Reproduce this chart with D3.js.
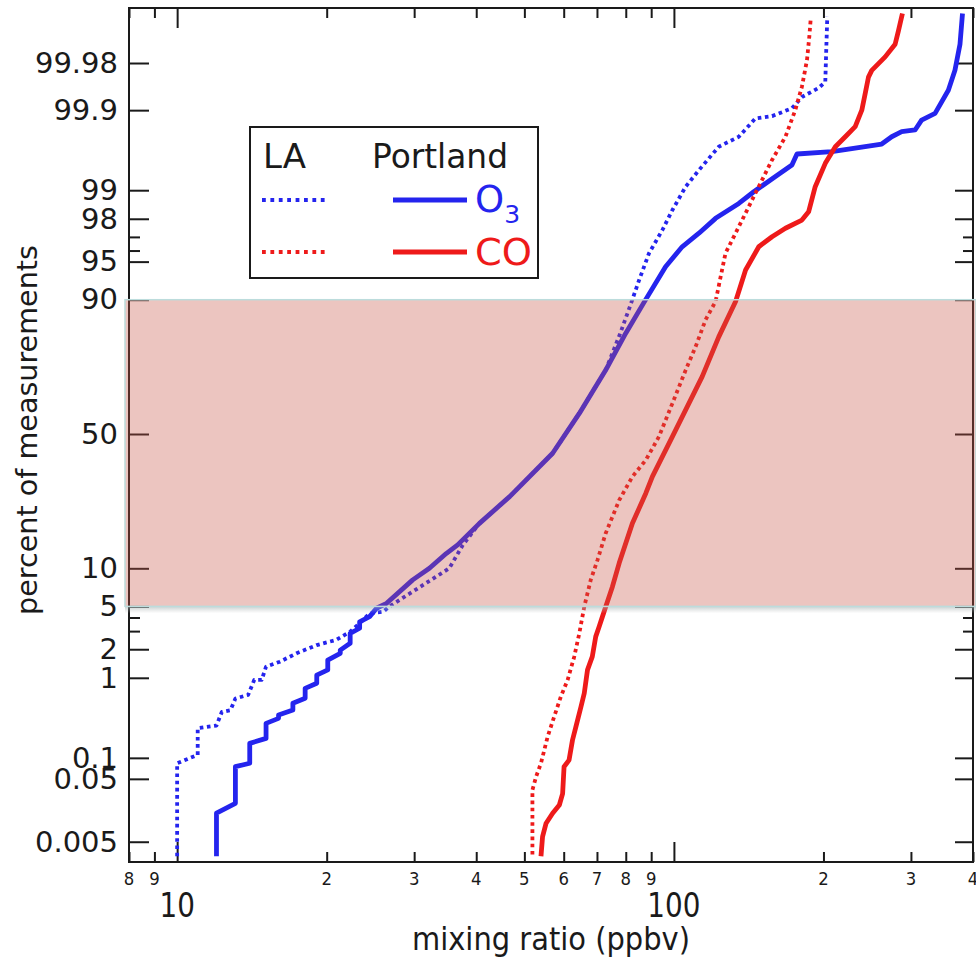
<!DOCTYPE html>
<html><head><meta charset="utf-8">
<script src="https://cdn.jsdelivr.net/npm/d3@7"></script>
<style>body{margin:0;background:#fff}svg{display:block}</style>
</head><body>
<svg id="c" width="976" height="966"></svg>
<script>
// ---------- data ----------
const yTickMajor = [0.005, 0.05, 0.1, 1, 2, 5, 10, 50, 90, 95, 98, 99, 99.9, 99.98];
const yTickMinor = [3, 4, 96, 97];
const xTickMajor = [10, 100];
const xTickMinor = [8, 9, 20, 30, 40, 50, 60, 70, 80, 90, 200, 300, 400];
const xMinorLabels = ["8", "9", "2", "3", "4", "5", "6", "7", "8", "9", "2", "3", "4"];
const bandPercent = [5, 90];

const laO3Value = [10, 10, 11, 11, 12, 12.3, 12.8, 13.1, 13.9, 14.3, 14.8, 15.1, 16.1, 17.4, 19.1, 20.9, 22.3, 23.3, 24.4, 26.0, 26.7, 35.3, 37.6, 40.6, 46.7, 57.0, 64.5, 72.9, 78, 82, 85.1, 89.1, 94.8, 99.3, 105.6, 112.3, 123.1, 135.1, 145.9, 157.6, 172.8, 181, 195.5, 201.7, 202.6, 203.6];
const laO3Percent = [0.0028, 0.084, 0.11, 0.25, 0.27, 0.40, 0.42, 0.58, 0.64, 0.95, 0.95, 1.32, 1.49, 1.82, 2.2, 2.47, 2.96, 3.55, 4.35, 4.5, 4.97, 10.0, 14.5, 19.7, 27.5, 42.7, 57.8, 72.9, 83.2, 89.4, 92.9, 95.77, 97.42, 98.37, 99.086, 99.41, 99.694, 99.772, 99.870, 99.879, 99.906, 99.935, 99.952, 99.961, 99.9876, 99.9966];

const portlandO3Value = [12, 12, 13.1, 13.1, 14, 14, 15.1, 15.1, 16, 16, 17.1, 17.1, 18.1, 18.1, 19.1, 19.1, 20.1, 20.1, 21.3, 21.3, 22.3, 22.3, 23.3, 23.3, 24.4, 25.2, 26.4, 29.8, 32.2, 34.8, 36.7, 40.6, 46.7, 57.0, 64.5, 72.9, 80, 87, 96.2, 103.9, 112.3, 121.3, 135.1, 144.8, 160.1, 172.8, 176.9, 207.9, 262, 274.4, 287.4, 305.8, 315.2, 335.5, 356.8, 367.9, 376.6, 381];
const portlandO3Percent = [0.0028, 0.0148, 0.0213, 0.075, 0.084, 0.158, 0.184, 0.288, 0.333, 0.367, 0.422, 0.509, 0.584, 0.761, 0.868, 1.07, 1.22, 1.55, 1.82, 1.96, 2.29, 2.86, 3.19, 3.66, 4.07, 4.82, 5.31, 8.2, 10.0, 12.7, 14.5, 19.7, 27.5, 42.7, 57.8, 72.9, 83.2, 89.5, 94.48, 96.3, 97.23, 98.02, 98.61, 98.96, 99.30, 99.487, 99.623, 99.648, 99.717, 99.772, 99.804, 99.814, 99.863, 99.889, 99.948, 99.974, 99.990, 99.997];

const laCOValue = [51.9, 51.9, 52.8, 54.0, 55.7, 57.4, 59.2, 61.1, 63.0, 64.5, 66.0, 68.0, 70.2, 72.9, 77.6, 82.5, 87.8, 93.3, 99.3, 105.6, 110.6, 115.8, 121.3, 127.0, 137.2, 145.9, 157.6, 167.7, 175.5, 181.0, 185.3, 187.3, 188.5];
const laCOPercent = [0.003, 0.034, 0.054, 0.084, 0.194, 0.349, 0.609, 0.946, 1.68, 2.86, 4.97, 8.18, 11.5, 17.2, 26.4, 34.2, 40.2, 49.0, 61.5, 72.9, 79.8, 86.2, 89.7, 95.77, 97.94, 98.92, 99.554, 99.772, 99.900, 99.954, 99.982, 99.9925, 99.9962];

const portlandCOValue = [54.0, 54.4, 55.3, 57.0, 58.8, 59.7, 60.1, 61.5, 62.5, 63.5, 65.0, 66.0, 67.0, 68.5, 69.6, 70.7, 71.8, 72.9, 75.2, 77.6, 82.5, 87.8, 90.5, 99.3, 105.6, 114.0, 123.1, 133.1, 139.4, 148.2, 157.6, 167.7, 181.0, 186.7, 192.5, 201.7, 211.3, 221.3, 231.7, 238.9, 242.7, 246.4, 250.2, 266.2, 278.8, 283.1, 288.4];
const portlandCOPercent = [0.0028, 0.0061, 0.0102, 0.0148, 0.020, 0.030, 0.075, 0.093, 0.175, 0.261, 0.463, 0.668, 1.22, 1.68, 2.66, 3.30, 4.07, 4.97, 7.26, 10.9, 19.7, 28.6, 34.2, 49.0, 59.1, 70.8, 82.3, 89.7, 94.12, 96.30, 97.01, 97.52, 97.94, 98.30, 99.086, 99.51, 99.694, 99.772, 99.832, 99.900, 99.942, 99.967, 99.974, 99.984, 99.990, 99.994, 99.997];

const seriesNames = ["LA O3", "Portland O3", "LA CO", "Portland CO"];

// ---------- helpers ----------
function probit(p) { // Acklam inverse normal CDF
  const a=[-3.969683028665376e+01,2.209460984245205e+02,-2.759285104469687e+02,1.383577518672690e+02,-3.066479806614716e+01,2.506628277459239e+00];
  const b=[-5.447609879822406e+01,1.615858368580409e+02,-1.556989798598866e+02,6.680131188771972e+01,-1.328068155288572e+01];
  const c=[-7.784894002430293e-03,-3.223964580411365e-01,-2.400758277161838e+00,-2.549732539343734e+00,4.374664141464968e+00,2.938163982698783e+00];
  const d=[7.784695709041462e-03,3.224671290700398e-01,2.445134137142996e+00,3.754408661907416e+00];
  const pl=0.02425, ph=1-pl; let q, r;
  if (p < pl) { q=Math.sqrt(-2*Math.log(p)); return (((((c[0]*q+c[1])*q+c[2])*q+c[3])*q+c[4])*q+c[5])/((((d[0]*q+d[1])*q+d[2])*q+d[3])*q+1); }
  if (p <= ph) { q=p-0.5; r=q*q; return (((((a[0]*r+a[1])*r+a[2])*r+a[3])*r+a[4])*r+a[5])*q/(((((b[0]*r+b[1])*r+b[2])*r+b[3])*r+b[4])*r+1); }
  q=Math.sqrt(-2*Math.log(1-p)); return -(((((c[0]*q+c[1])*q+c[2])*q+c[3])*q+c[4])*q+c[5])/((((d[0]*q+d[1])*q+d[2])*q+d[3])*q+1);
}
const zOf = pct => probit(pct / 100);

// ---------- layout ----------
const L = 129, R = 973, T = 8, B = 862;
const x = d3.scaleLog().domain([8, 400]).range([L, R]);
const yz = d3.scaleLinear().domain([-4.084, 4.065]).range([B, T]);
const y = pct => yz(zOf(pct));

const svg = d3.select("#c");
const BLUE = "#2424ee", RED = "#ee1a1a", INK = "#1a1a1a";

const defs = svg.append("defs");
const grad = defs.append("linearGradient").attr("id", "sh").attr("x1", 0).attr("y1", 0).attr("x2", 0).attr("y2", 1);
grad.append("stop").attr("offset", 0).attr("stop-color", "#9aa").attr("stop-opacity", 0.55);
grad.append("stop").attr("offset", 1).attr("stop-color", "#bbb").attr("stop-opacity", 0);

// axes (ticks inward)
const styleAxis = g => { g.select(".domain").remove(); g.selectAll(".tick line").attr("stroke", INK).attr("stroke-width", 2); };

svg.append("g").attr("transform", `translate(0,${B})`)
  .call(d3.axisBottom(x).tickValues(xTickMajor).tickSize(-20).tickFormat("")).call(styleAxis);
svg.append("g").attr("transform", `translate(0,${B})`)
  .call(d3.axisBottom(x).tickValues(xTickMinor).tickSize(-10).tickFormat("")).call(styleAxis);
svg.append("g").attr("transform", `translate(0,${T})`)
  .call(d3.axisTop(x).tickValues(xTickMajor).tickSize(-20).tickFormat("")).call(styleAxis);
svg.append("g").attr("transform", `translate(0,${T})`)
  .call(d3.axisTop(x).tickValues(xTickMinor).tickSize(-10).tickFormat("")).call(styleAxis);

const yMajZ = yTickMajor.map(zOf), yMinZ = yTickMinor.map(zOf);
const yLeft = svg.append("g").attr("transform", `translate(${L},0)`)
  .call(d3.axisLeft(yz).tickValues(yMajZ).tickSize(-20).tickPadding(11).tickFormat((d, i) => String(yTickMajor[i])))
  .call(styleAxis);
yLeft.selectAll(".tick text").attr("font-family", "DejaVu Sans, sans-serif").attr("font-size", 29).attr("fill", INK);
svg.append("g").attr("transform", `translate(${L},0)`)
  .call(d3.axisLeft(yz).tickValues(yMinZ).tickSize(-11).tickFormat("")).call(styleAxis);
svg.append("g").attr("transform", `translate(${R},0)`)
  .call(d3.axisRight(yz).tickValues(yMajZ).tickSize(-18).tickFormat("")).call(styleAxis);
svg.append("g").attr("transform", `translate(${R},0)`)
  .call(d3.axisRight(yz).tickValues(yMinZ).tickSize(-10).tickFormat("")).call(styleAxis);

// frame
svg.append("rect").attr("x", L).attr("y", T).attr("width", R - L).attr("height", B - T)
  .attr("fill", "none").attr("stroke", INK).attr("stroke-width", 2);

// x labels
svg.append("g").selectAll("text").data(xTickMinor).join("text")
  .attr("x", d => x(d)).attr("y", 885).attr("text-anchor", "middle")
  .attr("font-family", "DejaVu Sans, sans-serif").attr("font-size", 18.5)
  .attr("textLength", 10.5).attr("lengthAdjust", "spacingAndGlyphs").attr("fill", INK)
  .text((d, i) => xMinorLabels[i]);
svg.append("g").selectAll("text").data(xTickMajor).join("text")
  .attr("x", d => x(d)).attr("y", 917).attr("text-anchor", "middle")
  .attr("font-family", "DejaVu Sans, sans-serif").attr("font-size", 34)
  .attr("textLength", d => String(d).length * 17.7).attr("lengthAdjust", "spacingAndGlyphs").attr("fill", INK)
  .text(d => d);

// axis titles
svg.append("text").attr("x", (L + R) / 2).attr("y", 950).attr("text-anchor", "middle")
  .attr("font-family", "DejaVu Sans, sans-serif").attr("font-size", 32)
  .attr("textLength", 278).attr("lengthAdjust", "spacingAndGlyphs").attr("fill", INK)
  .text("mixing ratio (ppbv)");
svg.append("text").attr("transform", "translate(37,430) rotate(-90)").attr("text-anchor", "middle")
  .attr("font-family", "DejaVu Sans, sans-serif").attr("font-size", 28.5)
  .attr("textLength", 370).attr("lengthAdjust", "spacingAndGlyphs").attr("fill", INK)
  .text("percent of measurements");

// curves
const series = [
  { v: laO3Value, p: laO3Percent, color: BLUE, dotted: true },
  { v: portlandO3Value, p: portlandO3Percent, color: BLUE, dotted: false },
  { v: laCOValue, p: laCOPercent, color: RED, dotted: true },
  { v: portlandCOValue, p: portlandCOPercent, color: RED, dotted: false }
];
const line = d3.line().x(d => x(d[0])).y(d => y(d[1]));
const clip = defs.append("clipPath").attr("id", "pc");
clip.append("rect").attr("x", L).attr("y", T).attr("width", R - L).attr("height", B - T);
svg.append("g").attr("clip-path", "url(#pc)").selectAll("path").data(series).join("path")
  .attr("d", s => line(s.v.map((v, i) => [v, s.p[i]])))
  .attr("fill", "none").attr("stroke", s => s.color)
  .attr("stroke-width", s => s.dotted ? 3.8 : 4.8)
  .attr("stroke-dasharray", s => s.dotted ? "3.6,3.6" : null)
  .attr("stroke-linejoin", "round");

// shaded band (5% - 90%)
const bTop = y(bandPercent[1]), bBot = y(bandPercent[0]);
svg.append("rect").attr("x", L - 4).attr("y", bBot).attr("width", R - L + 7).attr("height", 7).attr("fill", "url(#sh)");
svg.append("rect").attr("x", L - 4).attr("y", bTop).attr("width", R - L + 7).attr("height", bBot - bTop)
  .attr("fill", "rgb(200,86,69)").attr("fill-opacity", 0.34)
  .attr("stroke", "#bcdcdc").attr("stroke-width", 1.5);

// legend
const lg = svg.append("g");
lg.append("rect").attr("x", 250).attr("y", 127).attr("width", 288).attr("height", 151)
  .attr("fill", "#fff").attr("stroke", INK).attr("stroke-width", 2);
lg.append("text").attr("x", 263).attr("y", 168).attr("font-family", "DejaVu Sans, sans-serif").attr("font-size", 34).attr("fill", INK).text("LA");
lg.append("text").attr("x", 372).attr("y", 168).attr("font-family", "DejaVu Sans, sans-serif").attr("font-size", 34)
  .attr("textLength", 136).attr("lengthAdjust", "spacingAndGlyphs").attr("fill", INK).text("Portland");
[[200, BLUE], [252, RED]].forEach(([yy, col]) => {
  lg.append("line").attr("x1", 262).attr("x2", 328).attr("y1", yy).attr("y2", yy)
    .attr("stroke", col).attr("stroke-width", 3.8).attr("stroke-dasharray", "3.8,4.6");
  lg.append("line").attr("x1", 393).attr("x2", 467).attr("y1", yy).attr("y2", yy)
    .attr("stroke", col).attr("stroke-width", 4.8);
});
const o3 = lg.append("text").attr("x", 475).attr("y", 212).attr("font-family", "DejaVu Sans, sans-serif").attr("font-size", 37).attr("fill", BLUE);
o3.append("tspan").text("O");
o3.append("tspan").attr("font-size", 25).attr("dy", 11).text("3");
lg.append("text").attr("x", 475).attr("y", 265).attr("font-family", "DejaVu Sans, sans-serif").attr("font-size", 37)
  .attr("textLength", 57).attr("lengthAdjust", "spacingAndGlyphs").attr("fill", RED).text("CO");
</script>
</body></html>
